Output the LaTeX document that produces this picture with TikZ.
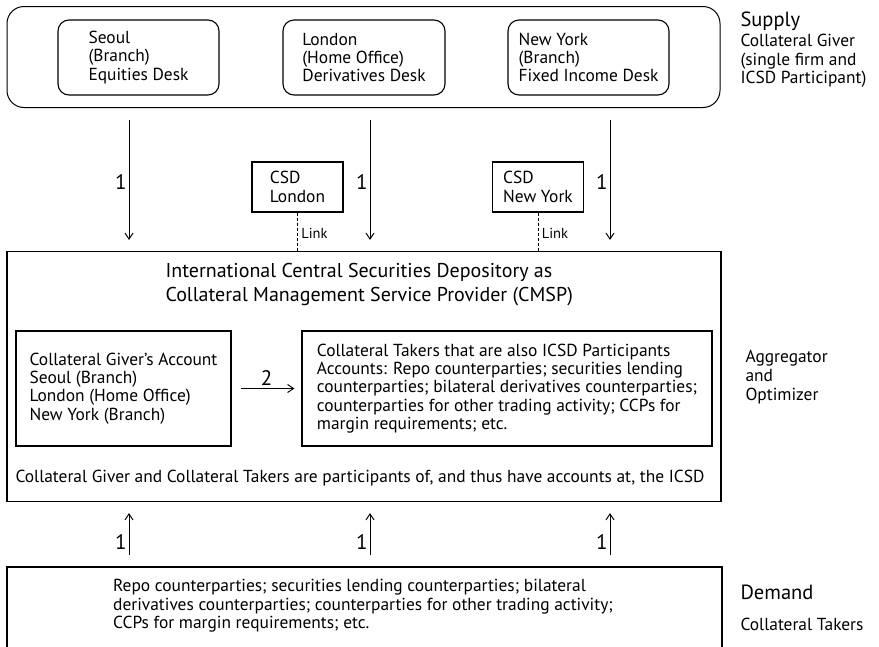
\documentclass[tikz,border=0pt]{standalone}
\usepackage{fontspec}
\setmainfont{PT Sans}
\usetikzlibrary{arrows.meta}
\begin{document}
\begin{tikzpicture}[x=1pt,y=-1pt,
  box/.style={draw, line width=1.1pt, inner sep=0pt},
  rbox/.style={box, rounded corners=11pt},
  txt/.style={font=\fontsize{17.4}{18.4}\selectfont, align=left},
  arr/.style={-{Straight Barb[length=6pt,width=8pt]}, line width=1pt},
  num/.style={font=\fontsize{21}{22}\selectfont, inner sep=2pt},
  side/.style={font=\fontsize{17.4}{18.6}\selectfont, align=left, anchor=west},
  head/.style={font=\fontsize{20.5}{22}\selectfont, anchor=west},
  linkline/.style={line width=1pt, dash pattern=on 3pt off 2pt},
  linklbl/.style={right, font=\fontsize{14.5}{16}\selectfont}]
\useasboundingbox (0,0) rectangle (879,646);
% supply
\node[draw, line width=1pt, rounded corners=17pt, minimum width=713pt, minimum height=101pt] (supply) at (363.5,57) {};
\node[rbox, txt, minimum width=161pt, minimum height=75pt] (seoul) at (138.5,57.5) {Seoul\\(Branch)\\Equities Desk};
\node[rbox, txt, minimum width=162pt, minimum height=75pt] (london) at (364,57.5) {London\\(Home Office)\\Derivatives Desk};
\node[rbox, txt, minimum width=161pt, minimum height=75pt] (newyork) at (588.5,57.5) {New York\\(Branch)\\Fixed Income Desk};
\node[head] (supplylbl) at (737,21) {Supply};
\node[side] (giver) at (737,61) {Collateral Giver\\(single firm and\\ICSD Participant)};
% CSDs
\node[box, txt, minimum width=91pt, minimum height=50pt] (csdL) at (297.5,187) {CSD\\London};
\node[box, txt, minimum width=91pt, minimum height=50pt] (csdN) at (538,187) {CSD\\New York};
% main
\node[box, minimum width=714pt, minimum height=250pt] (main) at (364,376.5) {};
\node[anchor=west, align=left, font=\fontsize{20}{24}\selectfont] (title) at (162,285) {International Central Securities Depository as\\Collateral Management Service Provider (CMSP)};
\node[box, txt, minimum width=215pt, minimum height=115pt] (gacc) at (123.5,388.5) {Collateral Giver’s Account\\Seoul (Branch)\\London (Home Office)\\New York (Branch)};
\node[box, txt, minimum width=410pt, minimum height=115pt] (tacc) at (507,388.5) {Collateral Takers that are also ICSD Participants\\Accounts: Repo counterparties; securities lending\\counterparties; bilateral derivatives counterparties;\\counterparties for other trading activity; CCPs for\\margin requirements; etc.};
\node[txt] (part) at (360,478) {Collateral Giver and Collateral Takers are participants of, and thus have accounts at, the ICSD};
\node[side] (agg) at (742,377) {Aggregator\\and\\Optimizer};
% demand
\node[box, minimum width=715pt, minimum height=130pt] (demand) at (364.5,632) {};
\node[txt] (dtxt) at (363,606) {Repo counterparties; securities lending counterparties; bilateral\\derivatives counterparties; counterparties for other trading activity;\\CCPs for margin requirements; etc.};
\node[head] (demandlbl) at (737,592) {Demand};
\node[side] (takers) at (737,624) {Collateral Takers};
% connectors
\coordinate (x1) at (129,0);
\coordinate (x2) at (370,0);
\coordinate (x3) at (610,0);
\foreach \c in {x1,x2,x3}{
  \draw[arr, shorten <=12pt, shorten >=11pt] (supply.south -| \c) -- node[num, left, pos=0.52]{1} (main.north -| \c);
  \draw[arr, shorten <=11pt, shorten >=11pt] (demand.north -| \c) -- node[num, left, pos=0.38]{1} (main.south -| \c);
}
\draw[linkline] (csdL.south) -- node[linklbl, pos=0.55]{Link} (csdL.south |- main.north);
\draw[linkline] (csdN.south) -- node[linklbl, pos=0.55]{Link} (csdN.south |- main.north);
\draw[arr, shorten <=9pt, shorten >=7pt] (gacc.east) -- node[num, above, inner sep=3pt]{2} (tacc.west);
\end{tikzpicture}
\end{document}
